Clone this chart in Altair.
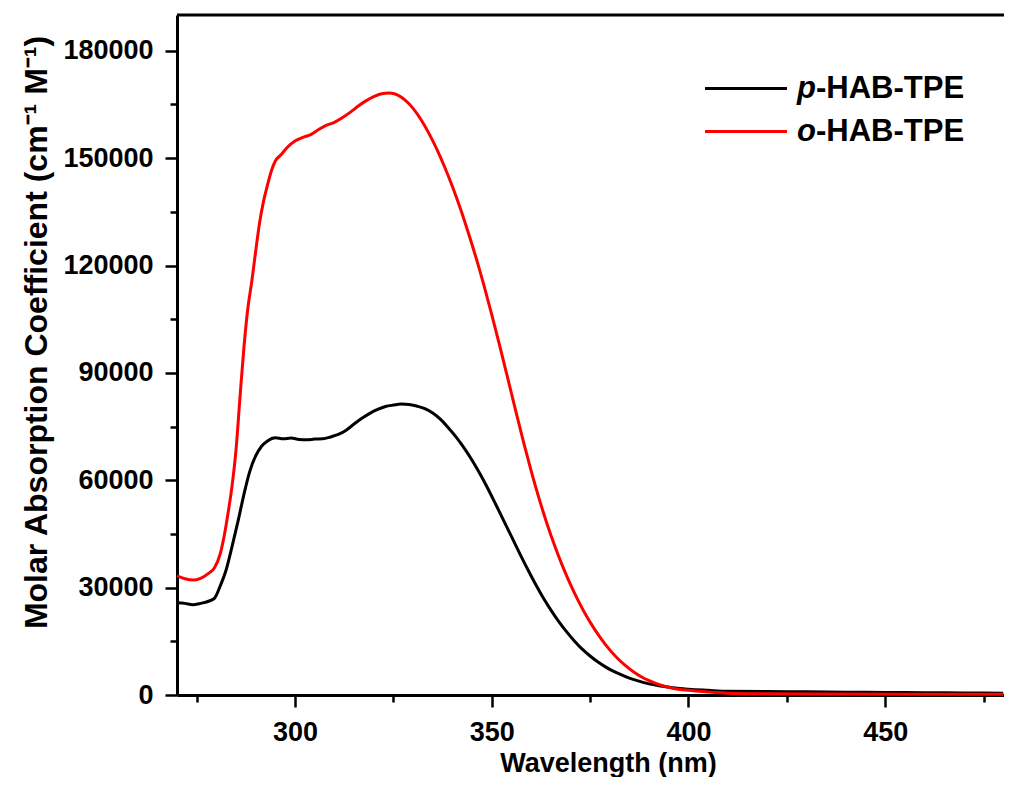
import altair as alt
import pandas as pd

# ---------------- data ----------------
wl_p = [270, 272, 274, 276, 278, 279.5, 281, 282.5, 284, 285.5, 287, 288.5, 290, 291.5,
        293, 295, 297, 299, 301, 303, 305, 307, 309, 311, 313, 315, 317, 319, 321, 323,
        325, 327, 329, 331, 333, 335, 337, 339, 341, 343, 345, 347, 349, 351, 353, 355,
        357, 359, 361, 363, 365, 367, 369, 371, 373, 375, 377, 379, 381, 383, 385, 387,
        390, 393, 396, 400, 405, 410, 420, 430, 440, 450, 460, 470, 480]
abs_p = [25800, 25600, 25200, 25600, 26200, 27000, 30500, 35000, 41500, 48500, 56000, 62500,
         66800, 69500, 71000, 71900, 71600, 71800, 71400, 71300, 71500, 71600, 72100, 72800,
         74000, 75700, 77300, 78700, 79800, 80600, 81000, 81300, 81200, 80700, 80000, 78800,
         77000, 74600, 72000, 69000, 65600, 61800, 57700, 53300, 48800, 44300, 39800, 35400,
         31200, 27300, 23800, 20600, 17700, 15100, 12800, 10900, 9200, 7800, 6600, 5600, 4700,
         4000, 3100, 2500, 2000, 1600, 1300, 1050, 950, 880, 800, 720, 640, 580, 520]

wl_o = [270, 272, 274, 276, 278, 279.5, 281, 282, 283, 284, 285, 286, 287, 288, 289, 290,
        291, 292, 293, 294, 295, 296.5, 298, 300, 302, 304, 306, 308, 310, 312, 314, 316,
        318, 320, 322, 324, 326, 328, 330, 332, 334, 336, 338, 340, 342, 344, 346, 348,
        350, 352, 354, 356, 358, 360, 362, 364, 366, 368, 370, 372, 374, 376, 378, 380,
        382, 384, 386, 388, 390, 393, 396, 400, 405, 410, 420, 440, 460, 480]
abs_o = [33300, 32500, 32100, 32600, 34000, 35500, 39500, 44500, 51000, 58500, 68500, 83000,
         97000, 108000, 115500, 124000, 132000, 138000, 142500, 146500, 149200, 151000,
         153000, 154800, 155800, 156600, 158000, 159200, 160000, 161300, 162800, 164500,
         166000, 167200, 168000, 168200, 167700, 166200, 163900, 160800, 157000, 152600,
         147600, 142100, 136000, 129300, 122200, 114500, 106300, 97700, 88800, 79800, 71000,
         62700, 55000, 48000, 41700, 36000, 30900, 26300, 22200, 18600, 15400, 12600, 10200,
         8200, 6500, 5100, 4000, 2750, 1900, 1300, 850, 520, 320, 250, 210, 200]

series_names = ["p-HAB-TPE", "o-HAB-TPE"]
series_italic = ["p", "o"]
series_rest = ["-HAB-TPE", "-HAB-TPE"]
series_colors = ["#000000", "#ff0000"]

x_major = [300, 350, 400, 450]
x_minor = [275, 325, 375, 425, 475]
y_major = [0, 30000, 60000, 90000, 120000, 150000, 180000]
y_minor = [15000, 45000, 75000, 105000, 135000, 165000]

x_title = "Wavelength (nm)"
y_title = "Molar Absorption Coefficient (cm\u207b\u00b9 M\u207b\u00b9)"

# ---------------- build ----------------
df = pd.concat([
    pd.DataFrame({"wl": wl_p, "v": abs_p, "series": series_names[0], "order": range(len(wl_p))}),
    pd.DataFrame({"wl": wl_o, "v": abs_o, "series": series_names[1], "order": range(len(wl_o))}),
], ignore_index=True)

W, H = 827, 680
FONT = "Liberation Sans"

x_scale = alt.Scale(domain=[270, 480.2], nice=False, zero=False)
y_scale = alt.Scale(domain=[0, 190000], nice=False, zero=False)

common_axis = dict(
    grid=False, domainColor="black", domainWidth=3, tickColor="black", tickWidth=2.5,
    labelFont=FONT, labelFontSize=27, labelFontWeight="bold", labelColor="black",
    titleFont=FONT, titleFontWeight="bold", titleColor="black",
)

x_axis = alt.Axis(title=x_title, values=x_major, orient="bottom", tickSize=12,
                  labelPadding=12, titleX=431, titleY=76, titleBaseline="alphabetic",
                  titleAlign="center", titleFontSize=27, **common_axis)
y_axis = alt.Axis(title=y_title, values=y_major, orient="left", tickSize=12,
                  labelPadding=12, titleX=-124, titleY=317, titleAngle=270,
                  titleBaseline="bottom", titleAlign="center", format="d",
                  titleFontSize=32, labelFlush=False, **common_axis)

x_axis_minor = alt.Axis(title=None, values=x_minor, orient="bottom", tickSize=7,
                        labels=False, domain=False, grid=False, tickColor="black",
                        tickWidth=2.5)
y_axis_minor = alt.Axis(title=None, values=y_minor, orient="left", tickSize=7,
                        labels=False, domain=False, grid=False, tickColor="black",
                        tickWidth=2.5)

minor = alt.Chart(df).mark_point(opacity=0).encode(
    x=alt.X("wl:Q", scale=x_scale, axis=x_axis_minor),
    y=alt.Y("v:Q", scale=y_scale, axis=y_axis_minor),
)

lines = alt.Chart(df).mark_line(strokeWidth=3, interpolate="monotone").encode(
    x=alt.X("wl:Q", scale=x_scale, axis=x_axis),
    y=alt.Y("v:Q", scale=y_scale, axis=y_axis),
    color=alt.Color("series:N", scale=alt.Scale(domain=series_names, range=series_colors),
                    legend=None),
    order="order:Q",
)

one = pd.DataFrame({"a": [0]})
top_border = alt.Chart(one).mark_rule(color="black", strokeWidth=3).encode(
    x=alt.value(0), x2=alt.value(W), y=alt.value(0)
)

legend_layers = []
row_y = [73.5, 116.5]
LFS = 31
for i in range(2):
    legend_layers.append(
        alt.Chart(one).mark_rule(color=series_colors[i], strokeWidth=3).encode(
            x=alt.value(528), x2=alt.value(610), y=alt.value(row_y[i]))
    )
    legend_layers.append(
        alt.Chart(one).mark_text(align="left", baseline="middle", font=FONT, fontSize=LFS,
                                 fontWeight="bold", fontStyle="italic", color="black").encode(
            x=alt.value(620), y=alt.value(row_y[i]), text=alt.value(series_italic[i]))
    )
    legend_layers.append(
        alt.Chart(one).mark_text(align="left", baseline="middle", font=FONT, fontSize=LFS,
                                 fontWeight="bold", color="black").encode(
            x=alt.value(639), y=alt.value(row_y[i]), text=alt.value(series_rest[i]))
    )

chart = alt.layer(minor, lines, top_border, *legend_layers).resolve_axis(
    x="independent", y="independent"
).properties(
    width=W, height=H,
    autosize=alt.AutoSizeParams(type="none"),
    padding={"left": 169, "top": 7, "right": 0, "bottom": 82},
    background="white",
).configure_view(stroke=None)

chart.save("out.html", embed_options={"renderer": "svg", "actions": False})
